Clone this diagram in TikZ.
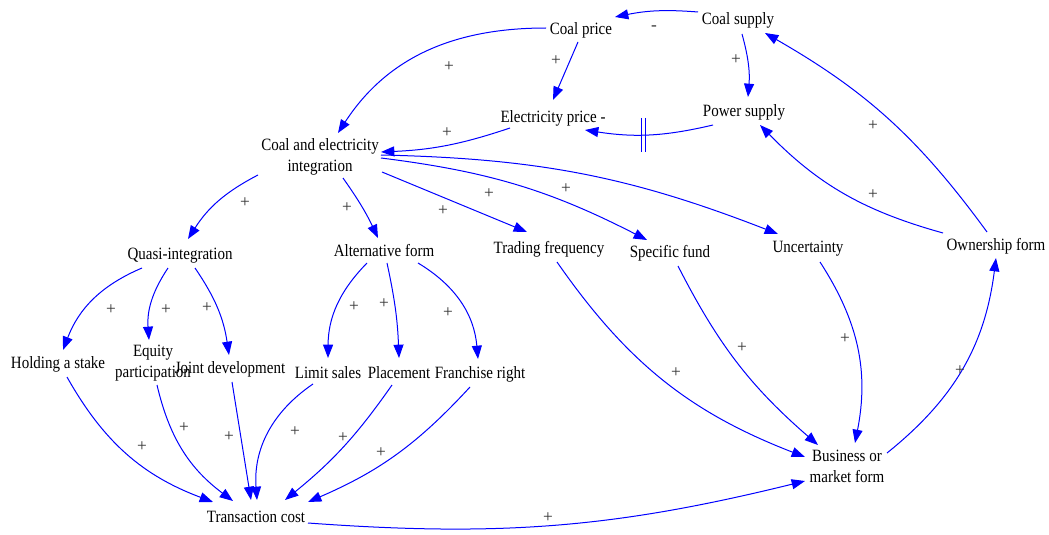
\documentclass[tikz,border=0pt]{standalone}
\usepackage{fontspec}
\setmainfont{Liberation Serif}
\usepackage{graphicx}
\usetikzlibrary{arrows.meta}
\newcommand\sx[1]{\scalebox{1}[1.15]{#1}}
\newcommand\tw[2]{\sx{\begin{tabular}{@{}c@{}}#1\\#2\end{tabular}}}
\begin{document}
\begin{tikzpicture}[x=0.75pt,y=0.75pt,
  var/.style={inner sep=0pt, font=\fontsize{11.25}{13.7}\selectfont},
  sign/.style={inner sep=0pt, text=black!80, font=\fontsize{13}{15}\selectfont},
  link/.style={draw=blue, line width=0.75pt, -{Triangle[length=10pt,width=7.5pt]}},
  delaybar/.style={draw=blue, line width=0.75pt}
]
\useasboundingbox (0,0) rectangle (1049,-535);

% variables
\node[var] (cp) at (581,-30) {\sx{Coal price}};
\node[var] (cs) at (738,-20) {\sx{Coal supply}};
\node[var] (ep) at (553,-118) {\sx{Electricity price -}};
\node[var] (ps) at (744,-112) {\sx{Power supply}};
\node[var] (ce) at (320,-157) {\tw{Coal and electricity}{integration}};
\node[var] (qi) at (180,-256) {\sx{Quasi-integration}};
\node[var] (af) at (384,-251) {\sx{Alternative form}};
\node[var] (tf) at (549,-249) {\sx{Trading frequency}};
\node[var] (sf) at (670,-253) {\sx{Specific fund}};
\node[var] (un) at (808,-249) {\sx{Uncertainty}};
\node[var] (of) at (996,-246) {\sx{Ownership form}};
\node[var] (hs) at (58,-364) {\sx{Holding a stake}};
\node[var] (eq) at (153,-363) {\tw{Equity}{participation}};
\node[var] (jd) at (230,-369) {\sx{Joint development}};
\node[var] (ls) at (328,-373) {\sx{Limit sales}};
\node[var] (pl) at (399,-373) {\sx{Placement}};
\node[var] (fr) at (480,-374) {\sx{Franchise right}};
\node[var] (tc) at (256,-517) {\sx{Transaction cost}};
\node[var] (bm) at (847,-468) {\tw{Business or}{market form}};

% links
\draw[link] ([shift={(-40,8)}]cs.center) to[bend right=8] ([shift={(34,13)}]cp.center);
\draw[link] ([shift={(4,-14)}]cs.center) to[bend left=10] ([shift={(4,15)}]ps.center);
\draw[link] ([shift={(-3,-12)}]cp.center) -- ([shift={(0,18)}]ep.center);
\draw[link] ([shift={(-31,-13)}]ps.center) to[bend left=11] coordinate[pos=0.55] (dly) ([shift={(32,-12)}]ep.center);
\draw[delaybar] ([shift={(-1.7,17)}]dly) -- ([shift={(-1.7,-17)}]dly)
                ([shift={(1.7,17)}]dly) -- ([shift={(1.7,-17)}]dly);
\draw[link] ([shift={(-35,2)}]cp.center) to[out=180,in=57] ([shift={(18,24)}]ce.center);
\draw[link] ([shift={(-43,-10)}]ep.center) to[bend left=8] ([shift={(61,5)}]ce.center);
\draw[link] ([shift={(-62,-18)}]ce.center) to[bend right=15] ([shift={(8,17)}]qi.center);
\draw[link] ([shift={(23,-21)}]ce.center) to[bend left=5] ([shift={(-6,13)}]af.center);
\draw[link] ([shift={(62,-15)}]ce.center) -- ([shift={(-22,17)}]tf.center);
\draw[link] ([shift={(61,-1)}]ce.center) to[bend left=10] ([shift={(-23,13)}]sf.center);
\draw[link] ([shift={(61,2)}]ce.center) to[bend left=10] ([shift={(-30,15)}]un.center);
\draw[link] ([shift={(-9,14)}]of.center) to[bend right=12] ([shift={(27,-13)}]cs.center);
\draw[link] ([shift={(-53,13)}]of.center) to[bend left=15] ([shift={(16,-13)}]ps.center);
\draw[link] ([shift={(-38,-12)}]qi.center) to[bend right=23] ([shift={(5,14)}]hs.center);
\draw[link] ([shift={(-12,-12)}]qi.center) to[bend right=19] ([shift={(-4,23)}]eq.center);
\draw[link] ([shift={(15,-12)}]qi.center) to[bend left=13] ([shift={(-1,14)}]jd.center);
\draw[link] ([shift={(-17,-12)}]af.center) to[bend right=22] ([shift={(0,15)}]ls.center);
\draw[link] ([shift={(3,-12)}]af.center) to[bend left=5] ([shift={(0,15)}]pl.center);
\draw[link] ([shift={(34,-12)}]af.center) to[bend left=27] ([shift={(-2,15)}]fr.center);
\draw[link] ([shift={(9,-13)}]hs.center) to[bend right=20] ([shift={(-43,15)}]tc.center);
\draw[link] ([shift={(4,-22)}]eq.center) to[bend right=20] ([shift={(-23,16)}]tc.center);
\draw[link] ([shift={(2,-13)}]jd.center) -- ([shift={(-5,17)}]tc.center);
\draw[link] ([shift={(-15,-11)}]ls.center) to[bend right=30] ([shift={(1,17)}]tc.center);
\draw[link] ([shift={(-7,-12)}]pl.center) to[bend left=8] ([shift={(29,17)}]tc.center);
\draw[link] ([shift={(-10,-13)}]fr.center) to[bend left=12] ([shift={(52,15)}]tc.center);
\draw[link] ([shift={(52,-6)}]tc.center) to[bend right=9] ([shift={(-42,-13)}]bm.center);
\draw[link] ([shift={(8,-13)}]tf.center) to[bend right=17] ([shift={(-42,11)}]bm.center);
\draw[link] ([shift={(8,-13)}]sf.center) to[bend right=11] ([shift={(-29,23)}]bm.center);
\draw[link] ([shift={(12,-13)}]un.center) to[bend left=22] ([shift={(8,25)}]bm.center);
\draw[link] ([shift={(40,15)}]bm.center) to[bend right=22] ([shift={(0,-12)}]of.center);

% polarity signs
\node[sign] (s1) at (654,-28) {-};
\node[sign] (s2) at (736,-60) {+};
\node[sign] (s3) at (556,-61) {+};
\node[sign] (s4) at (449,-67) {+};
\node[sign] (s5) at (447,-133) {+};
\node[sign] (s6) at (245,-203) {+};
\node[sign] (s7) at (347,-208) {+};
\node[sign] (s8) at (443,-211) {+};
\node[sign] (s9) at (489,-194) {+};
\node[sign] (s10) at (566,-189) {+};
\node[sign] (s11) at (873,-126) {+};
\node[sign] (s12) at (873,-195) {+};
\node[sign] (s13) at (111,-310) {+};
\node[sign] (s14) at (166,-310) {+};
\node[sign] (s15) at (207,-308) {+};
\node[sign] (s16) at (354,-307) {+};
\node[sign] (s17) at (384,-304) {+};
\node[sign] (s18) at (448,-313) {+};
\node[sign] (s19) at (142,-447) {+};
\node[sign] (s20) at (184,-428) {+};
\node[sign] (s21) at (229,-437) {+};
\node[sign] (s22) at (295,-432) {+};
\node[sign] (s23) at (343,-438) {+};
\node[sign] (s24) at (381,-453) {+};
\node[sign] (s25) at (548,-518) {+};
\node[sign] (s26) at (676,-373) {+};
\node[sign] (s27) at (742,-348) {+};
\node[sign] (s28) at (845,-339) {+};
\node[sign] (s29) at (960,-371) {+};
\end{tikzpicture}
\end{document}
